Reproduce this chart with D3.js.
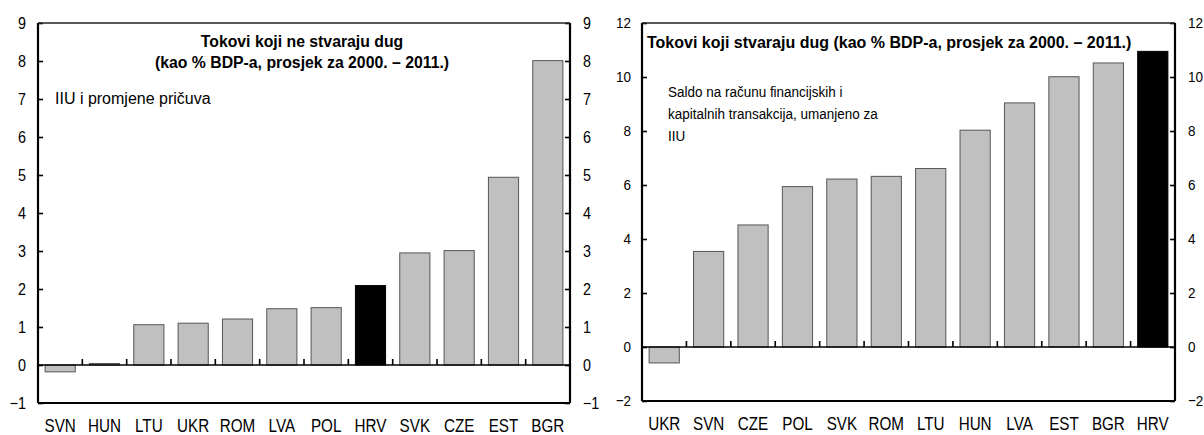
<!DOCTYPE html>
<html>
<head>
<meta charset="utf-8">
<script src="https://cdn.jsdelivr.net/npm/d3@7"></script>
<style>
  html, body { margin: 0; padding: 0; background: #fff; }
  svg { display: block; font-family: "Liberation Sans", Arial, sans-serif; }
</style>
</head>
<body>
<svg id="chart" width="1204" height="435"></svg>
<script>
// Non-debt-creating flows (left) and debt-creating flows (right), % of GDP, 2000–2011 average
const leftCategories = ["SVN", "HUN", "LTU", "UKR", "ROM", "LVA", "POL", "HRV", "SVK", "CZE", "EST", "BGR"];
const leftValues = [-0.18, 0.04, 1.06, 1.10, 1.21, 1.48, 1.51, 2.09, 2.95, 3.01, 4.94, 8.01];
const leftTicks = [-1, 0, 1, 2, 3, 4, 5, 6, 7, 8, 9];
const leftTitle = ["Tokovi koji ne stvaraju dug", "(kao % BDP-a, prosjek za 2000. – 2011.)"];
const leftNote = ["IIU i promjene pričuva"];

const rightCategories = ["UKR", "SVN", "CZE", "POL", "SVK", "ROM", "LTU", "HUN", "LVA", "EST", "BGR", "HRV"];
const rightValues = [-0.59, 3.54, 4.52, 5.94, 6.22, 6.32, 6.61, 8.03, 9.04, 10.01, 10.52, 10.95];
const rightTicks = [-2, 0, 2, 4, 6, 8, 10, 12];
const rightTitle = ["Tokovi koji stvaraju dug (kao % BDP-a, prosjek za 2000. – 2011.)"];
const rightNote = ["Saldo na računu financijskih i", "kapitalnih transakcija, umanjeno za", "IIU"];

const highlight = "HRV";
const SX = 0.87; // horizontal squeeze for axis labels

const svg = d3.select("#chart");

// place a horizontally scaled text at (x, y)
function label(g, x, y, txt, size, weight, anchor, sx) {
  g.append("g")
    .attr("transform", `translate(${x},${y}) scale(${sx},1)`)
    .append("text")
    .attr("text-anchor", anchor || "start")
    .attr("font-size", size)
    .attr("font-weight", weight || "normal")
    .attr("fill", "#000")
    .text(txt);
}

function panel(cfg) {
  const g = svg.append("g");
  const x = d3.scaleBand().domain(cfg.categories).range([cfg.x0, cfg.x1])
    .paddingInner(0.32).paddingOuter(0.16);
  const y = d3.scaleLinear().domain(cfg.domain).range([cfg.yBottom, cfg.yTop]);

  // bars
  g.selectAll("rect.bar")
    .data(cfg.categories.map((c, i) => ({ c, v: cfg.values[i] })))
    .join("rect")
    .attr("class", "bar")
    .attr("x", d => x(d.c))
    .attr("width", x.bandwidth())
    .attr("y", d => y(Math.max(0, d.v)))
    .attr("height", d => Math.abs(y(d.v) - y(0)))
    .attr("fill", d => d.c === highlight ? "#000" : "#c0c0c0")
    .attr("stroke", d => d.c === highlight ? "#000" : "#555")
    .attr("stroke-width", 1);

  // zero line with category separators
  g.append("line")
    .attr("x1", cfg.x0).attr("x2", cfg.x1)
    .attr("y1", y(0)).attr("y2", y(0))
    .attr("stroke", "#000").attr("stroke-width", 1.6);
  const step = x.step();
  g.selectAll("line.sep")
    .data(d3.range(1, cfg.categories.length))
    .join("line")
    .attr("class", "sep")
    .attr("x1", i => cfg.x0 + i * step).attr("x2", i => cfg.x0 + i * step)
    .attr("y1", y(0)).attr("y2", y(0) - 6)
    .attr("stroke", "#000").attr("stroke-width", 1.6);

  // left and right value axes with inward ticks
  const axL = g.append("g").attr("transform", `translate(${cfg.x0},0)`)
    .call(d3.axisLeft(y).tickValues(cfg.ticks).tickSize(-5).tickPadding(cfg.padL).tickFormat(d3.format("d")));
  const axR = g.append("g").attr("transform", `translate(${cfg.x1},0)`)
    .call(d3.axisRight(y).tickValues(cfg.ticks).tickSize(-5).tickPadding(cfg.padR).tickFormat(d3.format("d")));
  [axL, axR].forEach(ax => {
    ax.select(".domain").remove();
    ax.selectAll(".tick line").attr("stroke", "#000").attr("stroke-width", 1.6);
    ax.selectAll(".tick text")
      .attr("font-size", cfg.tickFont)
      .attr("font-family", "Liberation Sans, Arial, sans-serif")
      .attr("fill", "#000")
      .attr("transform", `scale(${SX},1)`)
      .attr("x", function () { return +d3.select(this).attr("x") / SX; });
  });

  // category axis
  const axB = g.append("g").attr("transform", `translate(0,${cfg.yBottom})`)
    .call(d3.axisBottom(x).tickSize(0).tickPadding(cfg.padB));
  axB.select(".domain").remove();
  axB.selectAll(".tick text")
    .attr("font-size", cfg.catFont)
    .attr("font-family", "Liberation Sans, Arial, sans-serif")
    .attr("fill", "#000")
    .attr("transform", `scale(${SX},1)`)
    .attr("x", 0);

  // frame
  g.append("line").attr("x1", cfg.x0).attr("x2", cfg.x1).attr("y1", cfg.yTop).attr("y2", cfg.yTop)
    .attr("stroke", "#222").attr("stroke-width", 1.5);
  g.append("line").attr("x1", cfg.x0).attr("x2", cfg.x1).attr("y1", cfg.yBottom).attr("y2", cfg.yBottom)
    .attr("stroke", "#000").attr("stroke-width", 2.2);
  g.append("line").attr("x1", cfg.x0).attr("x2", cfg.x0).attr("y1", cfg.yTop).attr("y2", cfg.yBottom)
    .attr("stroke", "#000").attr("stroke-width", 2.2);
  g.append("line").attr("x1", cfg.x1).attr("x2", cfg.x1).attr("y1", cfg.yTop).attr("y2", cfg.yBottom)
    .attr("stroke", "#000").attr("stroke-width", 2.2);

  // title and note
  cfg.title.forEach((t, i) => label(g, cfg.titleX, cfg.titleY + i * cfg.titleLead, t, cfg.titleFont, "bold", cfg.titleAnchor, 1));
  cfg.note.forEach((t, i) => label(g, cfg.noteX, cfg.noteY + i * cfg.noteLead, t, cfg.noteFont, "normal", "start", cfg.noteSx));
}

panel({
  categories: leftCategories, values: leftValues, ticks: leftTicks, domain: [-1, 9],
  x0: 38, x1: 570, yTop: 23, yBottom: 403,
  padL: 12, padR: 13, padB: 17, tickFont: 16.5, catFont: 17.5,
  title: leftTitle, titleX: 302, titleY: 47, titleLead: 21, titleFont: 15.8, titleAnchor: "middle",
  note: leftNote, noteX: 55, noteY: 104, noteLead: 22, noteFont: 16, noteSx: 1
});

panel({
  categories: rightCategories, values: rightValues, ticks: rightTicks, domain: [-2, 12],
  x0: 642, x1: 1175, yTop: 23, yBottom: 401,
  padL: 11, padR: 13, padB: 17, tickFont: 15.5, catFont: 17.5,
  title: rightTitle, titleX: 647, titleY: 48, titleLead: 21, titleFont: 16, titleAnchor: "start",
  note: rightNote, noteX: 668, noteY: 97, noteLead: 22, noteFont: 15.5, noteSx: SX
});
</script>
</body>
</html>
